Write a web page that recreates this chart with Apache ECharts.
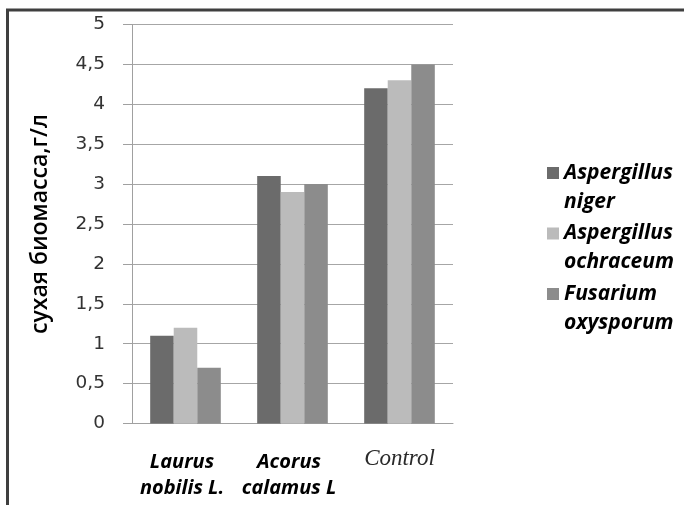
<!DOCTYPE html>
<html><head><meta charset="utf-8">
<script src="https://cdn.jsdelivr.net/npm/echarts@6/dist/echarts.min.js"></script>
<style>html,body{margin:0;padding:0;background:#fff}#c{width:684px;height:505px}</style>
</head><body><div id="c"></div>
<script>
const categories = ['Laurus\nnobilis L.', 'Acorus\ncalamus L', 'Control'];
const seriesNames = ['Aspergillus\nniger', 'Aspergillus\nochraceum', 'Fusarium\noxysporum'];
const nigerValues = [1.1, 3.1, 4.2];
const ochraceumValues = [1.2, 2.9, 4.3];
const fusariumValues = [0.7, 3.0, 4.5];
const yTicks = {min: 0, max: 5, interval: 0.5};
const yAxisTitle = 'сухая биомасса,г/л';

const colors = ['#6B6B6B', '#BBBBBB', '#8C8C8C'];
const sans = '"Open Sans", "Noto Sans", sans-serif';
const chart = echarts.init(document.getElementById('c'));
const values = [nigerValues, ochraceumValues, fusariumValues];
chart.setOption({
  animation: false,
  backgroundColor: '#fff',
  grid: {left: 132, top: 24.5, width: 321, height: 399},
  graphic: [{
    type: 'polyline', z: 100,
    shape: {points: [[7.5, 505], [7.5, 10], [684, 10]]},
    style: {stroke: '#3F3F3F', lineWidth: 3, fill: null}
  }],
  legend: {
    orient: 'vertical', left: 547, top: 129.5, padding: 0,
    itemWidth: 12, itemHeight: 12, itemGap: -26.5,
    selectedMode: false,
    formatter: n => '\n' + n,
    data: seriesNames.map((n, i) => ({name: n, icon: 'rect', itemStyle: {color: colors[i]}})),
    textStyle: {fontFamily: sans, fontSize: 21, fontWeight: 'bold', fontStyle: 'italic', color: '#000',
      lineHeight: 29}
  },
  xAxis: {
    type: 'category', data: categories,
    axisLine: {lineStyle: {color: '#A0A0A0', width: 1}},
    axisTick: {show: false},
    axisLabel: {
      margin: 26, interval: 0,
      formatter: function (v) {
        if (v === 'Control') return '{c|' + v + '}';
        return v.split('\n').map(s => '{b|' + s + '}').join('\n');
      },
      rich: {
        b: {fontFamily: sans, fontSize: 20, fontWeight: 'bold', fontStyle: 'italic', color: '#000', lineHeight: 26, padding: [0, 7, 0, 0]},
        c: {fontFamily: '"Liberation Serif", serif', fontSize: 23, fontStyle: 'italic', color: '#2a2a2a', lineHeight: 18}
      }
    }
  },
  yAxis: {
    type: 'value', min: yTicks.min, max: yTicks.max, interval: yTicks.interval,
    name: yAxisTitle, nameLocation: 'middle', nameRotate: 90, nameGap: 80,
    nameTextStyle: {fontFamily: sans, fontSize: 23, fontWeight: 600, color: '#000'},
    axisLine: {show: true, lineStyle: {color: '#A0A0A0'}},
    axisTick: {show: true, length: 9, lineStyle: {color: '#A0A0A0'}},
    splitLine: {lineStyle: {color: '#A6A6A6'}},
    axisLabel: {margin: 27, fontFamily: '"DejaVu Sans", sans-serif', fontSize: 18.5, color: '#333',
      formatter: v => String(v).replace('.', ',')}
  },
  series: seriesNames.map((n, i) => ({
    name: n, type: 'bar', data: values[i],
    barGap: '0%', barCategoryGap: '34%',
    itemStyle: {color: colors[i]}
  }))
});
</script></body></html>
